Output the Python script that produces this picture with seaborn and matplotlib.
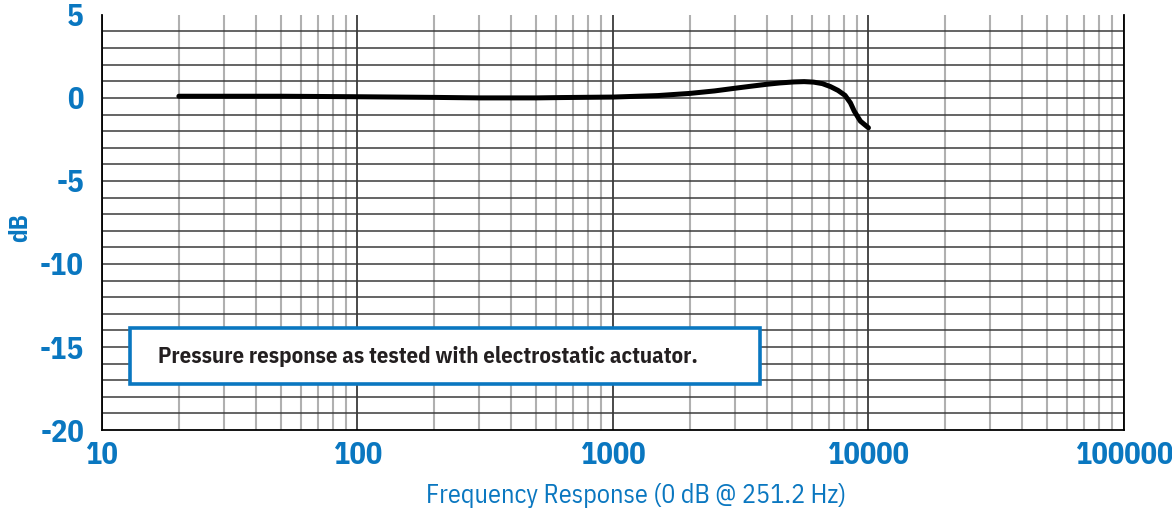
import numpy as np
import pandas as pd
import matplotlib
matplotlib.use("Agg")
import matplotlib.pyplot as plt
import matplotlib.ticker as mticker
from matplotlib.patches import Rectangle
import seaborn as sns

# frequency response
freq_hz = [20, 30, 50, 100, 200, 300, 500, 625, 1000, 1500, 2000, 2500, 3000,
           3500, 4000, 4500, 5100, 5600, 6100, 6600, 7100, 7600, 8100, 8500,
           8800, 9300, 10000]
level_db = [0.1, 0.1, 0.1, 0.07, 0.03, 0.0, 0.0, 0.02, 0.05, 0.14, 0.27, 0.42,
            0.58, 0.71, 0.82, 0.9, 0.96, 0.98, 0.95, 0.86, 0.68, 0.45, 0.15,
            -0.3, -0.8, -1.4, -1.8]

y_ticks = [5, 0, -5, -10, -15, -20]
y_grid = list(range(-19, 5))
x_ticks = [10, 100, 1000, 10000, 100000]
note = "Pressure response as tested with electrostatic actuator."
xlab = "Frequency Response (0 dB @ 251.2 Hz)"

blue = "#0a77c0"
fonts = ["IBM Plex Sans Condensed", "DejaVu Sans"]

sns.set_style("white")
plt.rcParams['font.family'] = fonts

df = pd.DataFrame({"freq": freq_hz, "db": level_db})

fig = plt.figure(figsize=(11.72, 5.12), dpi=100)
ax = fig.add_axes([0.087, 0.160, 0.872, 0.811])

ax.set_xscale("log")
ax.set_xlim(10, 100000)
ax.set_ylim(-20, 5)

# grid: 1 dB horizontals (none on top edge), log verticals
ax.yaxis.remove_overlapping_locs = False
ax.yaxis.set_minor_locator(mticker.FixedLocator(y_grid))
ax.xaxis.set_minor_locator(mticker.LogLocator(base=10, subs=np.arange(2, 10)))
ax.xaxis.set_minor_formatter(mticker.NullFormatter())
ax.grid(which="minor", axis="x", color="#b0b0b0", lw=1.5)
ax.grid(which="major", axis="x", color="#3a3a3a", lw=1.3)
ax.grid(which="minor", axis="y", color="#3a3a3a", lw=1.1)
ax.set_axisbelow(True)

sns.lineplot(data=df, x="freq", y="db", color="black", lw=3.6, ax=ax,
             solid_capstyle="round")

ax.set_yticks(y_ticks)
ax.set_yticklabels([str(v) for v in y_ticks])
ax.set_xticks(x_ticks)
ax.set_xticklabels([str(v) for v in x_ticks])
ax.tick_params(axis="y", which="major", length=5, width=1, color="#444444",
               labelsize=22, labelcolor=blue, pad=8)
ax.tick_params(axis="y", which="minor", length=0)
ax.tick_params(axis="x", which="major", length=3, labelsize=22,
               labelcolor=blue, pad=5)
ax.tick_params(axis="x", which="minor", length=0)
for lbl in ax.get_xticklabels() + ax.get_yticklabels():
    lbl.set_fontweight("bold")

for side in ["left", "bottom", "right"]:
    ax.spines[side].set_color("black")
    ax.spines[side].set_linewidth(1.3)
ax.spines["top"].set_visible(False)

ax.set_xlabel(xlab, color=blue, fontsize=18.8, va="center")
ax.xaxis.set_label_coords(0.523, -0.157)
ax.set_ylabel("dB", color=blue, fontsize=18, fontweight="bold", va="center")
ax.yaxis.set_label_coords(-0.080, 0.487)

# note box
ax.add_patch(Rectangle((0.0274, 0.111), 0.616, 0.135, transform=ax.transAxes,
                       facecolor="white", edgecolor=blue, lw=2.6, zorder=5))
ax.text(0.0548, 0.178, note, transform=ax.transAxes, fontsize=16.3,
        fontweight="bold", color="#231f20", va="center", ha="left", zorder=6)

fig.savefig("out.png", dpi=100)
